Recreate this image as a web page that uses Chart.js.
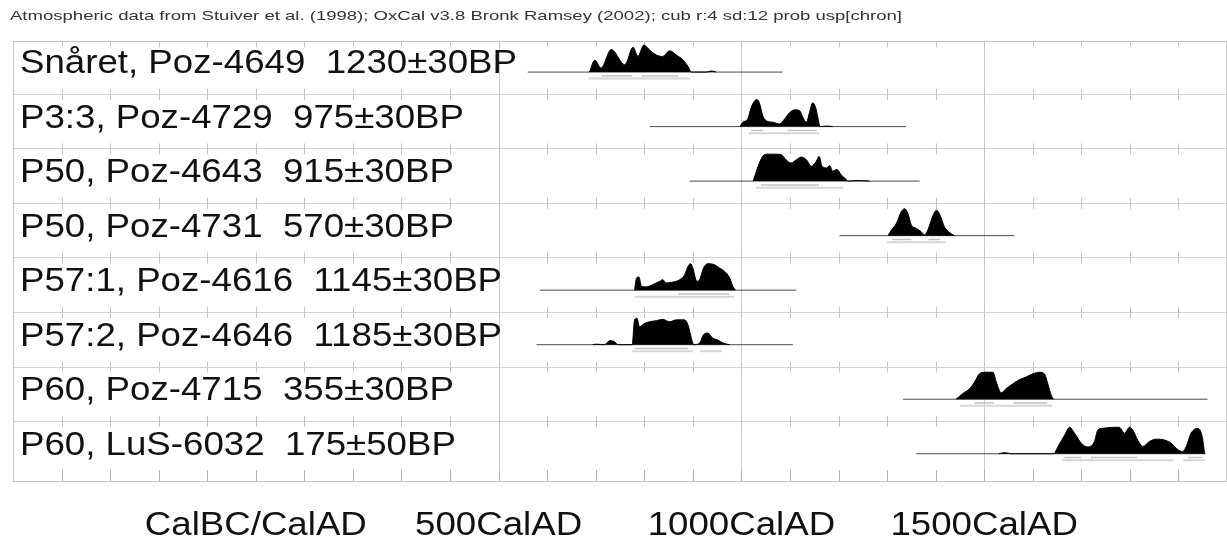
<!DOCTYPE html>
<html>
<head>
<meta charset="utf-8">
<script src="https://cdn.jsdelivr.net/npm/chart.js@4"></script>
<style>
  html, body { margin: 0; padding: 0; background: #fff; }
  canvas { display: block; }
</style>
</head>
<body>
<canvas id="oxcal" width="1227" height="538"></canvas>
<script>
// Multiplot of calibrated radiocarbon dates (OxCal style)

const titleText = 'Atmospheric data from Stuiver et al. (1998); OxCal v3.8 Bronk Ramsey (2002); cub r:4 sd:12 prob usp[chron]';

const rowLabels = [
    'Snåret, Poz-4649  1230±30BP',
    'P3:3, Poz-4729  975±30BP',
    'P50, Poz-4643  915±30BP',
    'P50, Poz-4731  570±30BP',
    'P57:1, Poz-4616  1145±30BP',
    'P57:2, Poz-4646  1185±30BP',
    'P60, Poz-4715  355±30BP',
    'P60, LuS-6032  175±50BP'
];

const axisTicks = [0, 500, 1000, 1500];
const axisLabels = ['CalBC/CalAD', '500CalAD', '1000CalAD', '1500CalAD'];

// calendar years (AD) and relative probability (peak = 1)
const yr1 = [687, 698, 711, 732, 760, 777, 787, 799, 811, 825, 838, 852, 866, 880, 890, 897, 928, 938, 948];
const p1 = [0, .44, .15, .84, .27, .92, .58, 1, .82, .63, .58, .79, .63, .45, .21, 0, 0, .04, 0];

const yr2 = [997, 1003, 1013, 1020, 1027, 1032, 1037, 1044, 1051, 1065, 1079, 1089, 1099, 1110, 1120, 1127, 1134, 1140, 1147, 1153, 1158, 1162, 1175, 1188];
const p2 = [0, .16, .28, .7, .95, 1, .88, .4, .22, .16, .1, .28, .51, .62, .59, .33, .16, .51, .88, .7, .28, 0, .02, 0];

const yr3 = [1024, 1031, 1037, 1044, 1054, 1068, 1082, 1092, 1102, 1113, 1123, 1134, 1144, 1154, 1160, 1166, 1175, 1182, 1188, 1197, 1205, 1216, 1219, 1240, 1264];
const p3 = [0, .37, .67, .92, 1, 1, .98, .79, .67, .79, .89, .79, .55, .73, .92, .55, .49, .57, .37, .43, .24, .06, 0, .02, 0];

const yr4 = [1302, 1309, 1319, 1329, 1336, 1343, 1350, 1360, 1370, 1377, 1384, 1391, 1398, 1402, 1409, 1418, 1429, 1439];
const p4 = [0, .21, .45, .88, 1, .82, .39, .27, .15, .03, .21, .57, .88, .94, .76, .33, .11, 0];

const yr5 = [780, 784, 789, 794, 804, 818, 832, 838, 845, 859, 873, 883, 890, 895, 900, 908, 914, 922, 931, 945, 955, 965, 976, 982, 988];
const p5 = [0, .45, .49, .15, .12, .21, .33, .39, .27, .3, .39, .57, .88, .98, .82, .33, .39, .82, .98, .94, .82, .7, .45, .15, 0];

const yr6 = [694, 701, 718, 729, 739, 746, 775, 780, 785, 790, 801, 811, 825, 838, 852, 866, 883, 890, 897, 902, 914, 922, 931, 941, 951, 962, 976];
const p6 = [0, .02, 0, .15, .11, 0, 0, .92, .98, .67, .79, .85, .89, .94, .85, .92, .92, .73, .24, 0, .06, .37, .43, .24, .18, .06, 0];

const yr7 = [1442, 1456, 1470, 1480, 1490, 1501, 1518, 1525, 1535, 1545, 1559, 1573, 1586, 1600, 1614, 1624, 1631, 1638, 1643];
const p7 = [0, .21, .39, .63, .94, 1, 1, .63, .24, .39, .57, .73, .82, .94, 1, .94, .57, .15, 0];

const yr8 = [1530, 1543, 1555, 1643, 1652, 1666, 1676, 1686, 1700, 1713, 1727, 1734, 1744, 1765, 1778, 1789, 1799, 1806, 1816, 1827, 1840, 1854, 1871, 1885, 1899, 1909, 1916, 1926, 1940, 1949, 1954];
const p8 = [0, .04, 0, 0, .27, .7, .98, .76, .39, .25, .45, .88, .94, .98, .98, .76, .98, .88, .51, .27, .45, .54, .51, .39, .15, .08, .27, .76, .94, .63, 0];

// extent of the plotted range for each date
const plotFrom = [560, 811, 893, 1202, 585, 578, 1333, 1360];
const plotTo = [1085, 1339, 1367, 1562, 1113, 1106, 1960, 1956];

// 68.2% and 95.4% ranges
const range68 = [
    [[713, 775], [795, 870]],
    [[1020, 1045], [1095, 1155]],
    [[1040, 1160]],
    [[1310, 1350], [1385, 1410]],
    [[870, 975]],
    [[780, 890]],
    [[1480, 1520], [1560, 1630]],
    [[1665, 1700], [1720, 1815], [1920, 1950]]
];
const range95 = [
    [[685, 895]],
    [[1015, 1160]],
    [[1030, 1210]],
    [[1300, 1420]],
    [[780, 985]],
    [[775, 900], [915, 960]],
    [[1450, 1640]],
    [[1660, 1890], [1910, 1955]]
];

const years = [yr1, yr2, yr3, yr4, yr5, yr6, yr7, yr8];
const probs = [p1, p2, p3, p4, p5, p6, p7, p8];

const BASE = 0.6;      // baseline offset inside a row
const PEAK = 0.495;    // height of a peak in row units
const FONT = '"Liberation Sans", Arial, Helvetica, sans-serif';

const datasets = [];
rowLabels.forEach((label, i) => {
    const base = i + BASE;
    datasets.push({
        label: label + ' range',
        data: [{ x: plotFrom[i], y: base }, { x: plotTo[i], y: base }],
        borderColor: '#4a4a4a',
        borderWidth: 1,
        pointRadius: 0,
        fill: false,
        order: 3
    });
    datasets.push({
        label: label,
        data: years[i].map((x, k) => ({ x: x, y: base - probs[i][k] * PEAK })),
        borderColor: '#000',
        backgroundColor: '#000',
        borderWidth: 1,
        pointRadius: 0,
        cubicInterpolationMode: 'monotone',
        fill: { value: base },
        order: 2
    });
    range95[i].forEach(r => {
        datasets.push({
            label: label + ' 95%',
            data: [{ x: r[0], y: base + 0.12 }, { x: r[1], y: base + 0.12 }],
            borderColor: '#d6d6d6',
            borderWidth: 2,
            pointRadius: 0,
            fill: false,
            order: 1
        });
    });
    range68[i].forEach(r => {
        datasets.push({
            label: label + ' 68%',
            data: [{ x: r[0], y: base + 0.07 }, { x: r[1], y: base + 0.07 }],
            borderColor: '#c2c2c2',
            borderWidth: 1.5,
            pointRadius: 0,
            fill: false,
            order: 1
        });
    });
});

const gridPlugin = {
    id: 'oxcalGrid',
    beforeDatasetsDraw(chart) {
        const { ctx, chartArea: a, scales: { x, y } } = chart;
        ctx.save();
        ctx.lineWidth = 1;

        // row separators
        ctx.strokeStyle = '#d2d2d2';
        for (let i = 1; i < rowLabels.length; i++) {
            const py = Math.round(y.getPixelForValue(i)) + 0.5;
            ctx.beginPath();
            ctx.moveTo(a.left, py);
            ctx.lineTo(a.right, py);
            ctx.stroke();
        }

        // major vertical lines
        ctx.strokeStyle = '#cdcdcd';
        [500, 1000, 1500].forEach(v => {
            const px = Math.round(x.getPixelForValue(v)) + 0.5;
            ctx.beginPath();
            ctx.moveTo(px, a.top);
            ctx.lineTo(px, a.bottom);
            ctx.stroke();
        });

        // tick marks every 100 years on each row line
        ctx.strokeStyle = '#c4c4c4';
        for (let v = -400; v < 2000; v += 100) {
            const px = Math.round(x.getPixelForValue(v)) + 0.5;
            for (let i = 0; i < rowLabels.length; i++) {
                const py = i === 0 ? a.top : y.getPixelForValue(i);
                ctx.beginPath();
                ctx.moveTo(px, py - (i === 0 ? 0 : 5));
                ctx.lineTo(px, py + 6);
                ctx.stroke();
            }
            ctx.strokeStyle = '#b4b4b4';
            ctx.beginPath();
            ctx.moveTo(px, a.bottom);
            ctx.lineTo(px, a.bottom - 11);
            ctx.stroke();
            ctx.strokeStyle = '#c4c4c4';
        }

        // frame
        ctx.strokeStyle = '#c6c6c6';
        ctx.strokeRect(a.left + 0.5, a.top + 0.5, a.right - a.left - 1, a.bottom - a.top);
        ctx.restore();
    },
    afterDraw(chart) {
        const { ctx, scales: { x, y } } = chart;
        ctx.save();

        // title
        ctx.fillStyle = '#333';
        ctx.font = '13px ' + FONT;
        ctx.textBaseline = 'alphabetic';
        const tw = ctx.measureText(titleText).width;
        ctx.save();
        ctx.translate(10, 20);
        ctx.scale(892 / tw, 1);
        ctx.fillText(titleText, 0, 0);
        ctx.restore();

        // row labels
        ctx.fillStyle = '#111';
        ctx.font = '34px ' + FONT;
        const sx = 497 / ctx.measureText(rowLabels[0]).width;
        rowLabels.forEach((label, i) => {
            ctx.save();
            ctx.translate(20, y.getPixelForValue(i + BASE) + 1);
            ctx.scale(sx, 1);
            ctx.fillText(label, 0, 0);
            ctx.restore();
        });

        // axis labels
        axisTicks.forEach((v, k) => {
            const w = ctx.measureText(axisLabels[k]).width * sx;
            ctx.save();
            ctx.translate(x.getPixelForValue(v) - w / 2, 535);
            ctx.scale(sx, 1);
            ctx.fillText(axisLabels[k], 0, 0);
            ctx.restore();
        });
        ctx.restore();
    }
};

new Chart(document.getElementById('oxcal'), {
    type: 'line',
    data: { datasets: datasets },
    options: {
        responsive: false,
        animation: false,
        devicePixelRatio: 1,
        layout: { padding: { left: 13, right: 0, top: 41, bottom: 57 } },
        plugins: {
            legend: { display: false },
            tooltip: { enabled: false }
        },
        scales: {
            x: { type: 'linear', min: -500, max: 2000, display: false },
            y: { type: 'linear', min: 0.03, max: 8.1, reverse: true, display: false }
        }
    },
    plugins: [gridPlugin]
});
</script>
</body>
</html>
